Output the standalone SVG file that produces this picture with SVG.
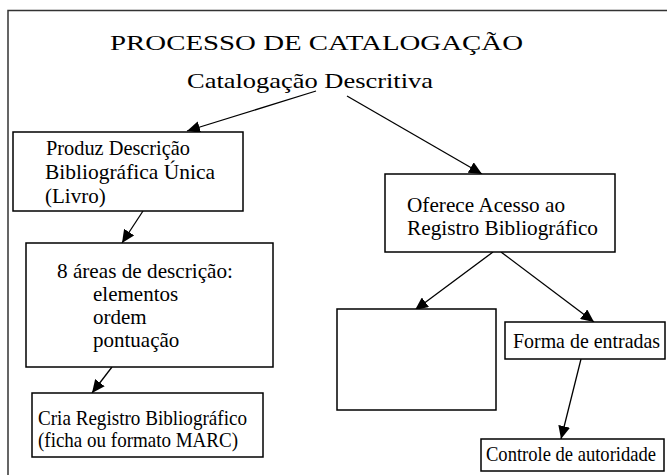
<svg xmlns="http://www.w3.org/2000/svg" width="667" height="475" viewBox="0 0 667 475">
<style>
  .box { fill: #fff; stroke: #000; stroke-width: 1.5; }
  .t { font-family: "Liberation Serif", "Times New Roman", serif; font-size: 21px; fill: #000; }
  .edge { stroke: #000; stroke-width: 1.3; fill: none; marker-end: url(#arr); }
</style>
<defs>
  <marker id="arr" markerUnits="userSpaceOnUse" markerWidth="14" markerHeight="12" refX="13" refY="6" orient="auto">
    <path d="M0,0 L13,6 L0,12 Z" fill="#000"/>
  </marker>
</defs>
<rect x="0" y="0" width="667" height="475" fill="#fff"/>
<rect x="8" y="10.5" width="700" height="500" fill="none" stroke="#333" stroke-width="1.5"/>
<g id="title">
  <text class="t" x="110" y="50" font-size="28.5" textLength="413" lengthAdjust="spacingAndGlyphs">PROCESSO DE CATALOGAÇÃO</text>
  <text class="t" x="187" y="88" font-size="27" textLength="246" lengthAdjust="spacingAndGlyphs">Catalogação Descritiva</text>
</g>
<g id="connectors">
  <line class="edge" x1="316" y1="91" x2="187" y2="131"/>
  <line class="edge" x1="347" y1="96" x2="482" y2="174"/>
  <line class="edge" x1="143" y1="211" x2="122" y2="243"/>
  <line class="edge" x1="112" y1="367" x2="92" y2="393"/>
  <line class="edge" x1="493" y1="252" x2="415" y2="310"/>
  <line class="edge" x1="501" y1="252" x2="594" y2="322"/>
  <line class="edge" x1="581" y1="359" x2="561" y2="439"/>
</g>
<g id="produz">
  <rect class="box" x="13" y="132" width="230" height="79"/>
  <text class="t" x="46" y="155" textLength="144" lengthAdjust="spacingAndGlyphs">Produz Descrição</text>
  <text class="t" x="45" y="179" textLength="170" lengthAdjust="spacingAndGlyphs">Bibliográfica Única</text>
  <text class="t" x="45" y="203">(Livro)</text>
</g>
<g id="areas">
  <rect class="box" x="26" y="243" width="247" height="124"/>
  <text class="t" x="57" y="278" textLength="176" lengthAdjust="spacingAndGlyphs">8 áreas de descrição:</text>
  <text class="t" x="93" y="301">elementos</text>
  <text class="t" x="93" y="324">ordem</text>
  <text class="t" x="93" y="347">pontuação</text>
</g>
<g id="cria">
  <rect class="box" x="32" y="393" width="231" height="64"/>
  <text class="t" x="38" y="425" textLength="209" lengthAdjust="spacingAndGlyphs">Cria Registro Bibliográfico</text>
  <text class="t" x="38" y="447" textLength="200" lengthAdjust="spacingAndGlyphs">(ficha ou formato MARC)</text>
</g>
<g id="oferece">
  <rect class="box" x="385" y="174" width="230" height="78"/>
  <text class="t" x="407" y="212" textLength="158" lengthAdjust="spacingAndGlyphs">Oferece Acesso ao</text>
  <text class="t" x="407" y="235" textLength="191" lengthAdjust="spacingAndGlyphs">Registro Bibliográfico</text>
</g>
<g id="vazio">
  <rect class="box" x="337" y="309" width="159" height="101"/>
</g>
<g id="forma">
  <rect class="box" x="505" y="322" width="160" height="37"/>
  <text class="t" x="513" y="348" textLength="147" lengthAdjust="spacingAndGlyphs">Forma de entradas</text>
</g>
<g id="controle">
  <rect class="box" x="481" y="439" width="183" height="32"/>
  <text class="t" x="486" y="461" font-size="19" textLength="170" lengthAdjust="spacingAndGlyphs">Controle de autoridade</text>
</g>
</svg>
